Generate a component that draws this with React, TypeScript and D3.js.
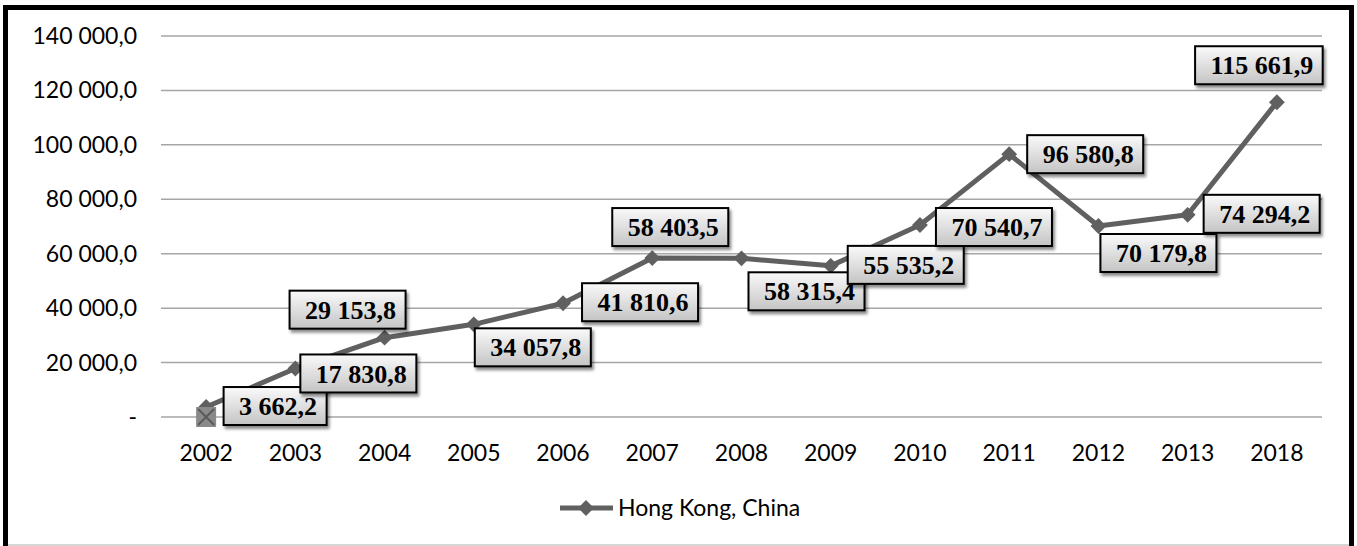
import React, { useEffect, useRef } from 'react';
import * as d3 from 'd3';

// values
const years = ['2002', '2003', '2004', '2005', '2006', '2007', '2008', '2009', '2010', '2011', '2012', '2013', '2018'];
const hongKong = [3662.2, 17830.8, 29153.8, 34057.8, 41810.6, 58403.5, 58315.4, 55535.2, 70540.7, 96580.8, 70179.8, 74294.2, 115661.9];
const yTicks = [0, 20000, 40000, 60000, 80000, 100000, 120000, 140000];
const seriesName = 'Hong Kong, China';

// where each data label box sits relative to its point (px)
const labelShift: [number, number][] = [
  [69, -1], [63, 5], [-37, -28], [59, 23], [77, -1], [18, -31], [65, 33],
  [75, -1], [74, 2], [76, 0], [60, 27], [74, -1], [-18, -37],
];

const W = 1357;
const H = 546;

const fmt = (v: number) => {
  const s = d3.format(',.1f')(v);
  return s.replace(/,/g, ' ').replace('.', ',');
};

const App: React.FC = () => {
  const svgRef = useRef<SVGSVGElement>(null);

  useEffect(() => {
    if (!svgRef.current) return;
    const svg = d3.select(svgRef.current);
    svg.selectAll('*').remove();

    const defs = svg.append('defs');
    const grad = defs.append('linearGradient').attr('id', 'lblGrad').attr('x1', 0).attr('y1', 0).attr('x2', 0).attr('y2', 1);
    grad.append('stop').attr('offset', '0%').attr('stop-color', '#fafafa');
    grad.append('stop').attr('offset', '100%').attr('stop-color', '#c4c4c4');
    const filt = defs.append('filter').attr('id', 'shadow').attr('x', '-20%').attr('y', '-30%').attr('width', '150%').attr('height', '170%');
    filt.append('feDropShadow').attr('dx', 2).attr('dy', 3).attr('stdDeviation', 1.8).attr('flood-color', '#000').attr('flood-opacity', 0.45);

    // outer frame
    svg.append('rect').attr('x', 0).attr('y', 0).attr('width', W).attr('height', H).attr('fill', '#fff');
    svg.append('line').attr('x1', 3).attr('x2', 1352).attr('y1', 545).attr('y2', 545).attr('stroke', '#c8c8c8').attr('stroke-width', 1.5);
    svg.append('path')
      .attr('d', `M5.5,546 L5.5,7.5 L1351.5,7.5 L1351.5,546`)
      .attr('fill', 'none').attr('stroke', '#000').attr('stroke-width', 5);

    const x = d3.scaleBand<string>().domain(years).range([161.5, 1321.5]);
    const y = d3.scaleLinear().domain([0, 140000]).range([417, 36]);
    const cx = (d: string) => (x(d) as number) + x.bandwidth() / 2;

    // gridlines
    svg.append('g').selectAll('line').data(yTicks).join('line')
      .attr('x1', 161).attr('x2', 1322)
      .attr('y1', (d) => y(d)).attr('y2', (d) => y(d))
      .attr('stroke', '#a6a6a6').attr('stroke-width', 1.5);

    // y tick labels
    svg.append('g').selectAll('text').data(yTicks).join('text')
      .attr('x', 137).attr('y', (d) => y(d)).attr('dy', '0.35em')
      .attr('text-anchor', 'end')
      .attr('font-family', 'Lato, "Liberation Sans", sans-serif').attr('font-size', 23).attr('fill', '#000')
      .text((d) => (d === 0 ? '-' : fmt(d)));

    // x tick labels
    svg.append('g').selectAll('text').data(years).join('text')
      .attr('x', (d) => cx(d)).attr('y', 461)
      .attr('text-anchor', 'middle')
      .attr('font-family', 'Lato, "Liberation Sans", sans-serif').attr('font-size', 23).attr('fill', '#000')
      .text((d) => d);

    const lineColor = '#606060';
    const line = d3.line<number>().x((_, i) => cx(years[i])).y((d) => y(d));
    svg.append('path').datum(hongKong)
      .attr('fill', 'none').attr('stroke', lineColor).attr('stroke-width', 5)
      .attr('stroke-linejoin', 'round')
      .attr('d', line as any);

    const diamond = d3.symbol().type(d3.symbolDiamond2).size(160);
    svg.append('g').selectAll('path').data(hongKong).join('path')
      .attr('transform', (d, i) => `translate(${cx(years[i])},${y(d)})`)
      .attr('d', diamond as any)
      .attr('fill', lineColor);

    // grey crossed square sitting on the baseline at the first category
    const sq = svg.append('g').attr('transform', `translate(${cx(years[0])},${y(0)})`);
    sq.append('rect').attr('x', -10).attr('y', -10).attr('width', 20).attr('height', 20).attr('fill', '#8a8a8a');
    sq.append('path').attr('d', 'M-8,-8 L8,8 M8,-8 L-8,8').attr('stroke', '#5a5a5a').attr('stroke-width', 2);

    // data labels
    const labels = svg.append('g');
    hongKong.forEach((v, i) => {
      const [dx, dy] = labelShift[i];
      const px = cx(years[i]) + dx;
      const py = y(v) + dy;
      const g = labels.append('g').attr('transform', `translate(${px},${py})`);
      const rect = g.append('rect').attr('fill', 'url(#lblGrad)').attr('stroke', '#000').attr('stroke-width', 2).attr('filter', 'url(#shadow)');
      const t = g.append('text')
        .attr('x', 3)
        .attr('text-anchor', 'middle').attr('dy', '0.35em')
        .attr('font-family', '"Liberation Serif", "Times New Roman", serif').attr('font-weight', 'bold').attr('font-size', 26)
        .attr('fill', '#000')
        .text(fmt(v));
      const w = (t.node() as SVGTextElement).getComputedTextLength() + 25;
      const h = 38;
      rect.attr('x', -w / 2).attr('y', -h / 2).attr('width', w).attr('height', h);
    });

    // legend
    const lg = svg.append('g').attr('transform', 'translate(560,508)');
    lg.append('line').attr('x1', 0).attr('x2', 53).attr('y1', 0).attr('y2', 0).attr('stroke', lineColor).attr('stroke-width', 5);
    lg.append('path').attr('transform', 'translate(26,0)').attr('d', diamond as any).attr('fill', lineColor);
    lg.append('text').attr('x', 58).attr('y', 0).attr('dy', '0.35em')
      .attr('font-family', 'Lato, "Liberation Sans", sans-serif').attr('font-size', 23).attr('fill', '#000')
      .text(seriesName);
  }, []);

  return (
    <div style={{ position: 'absolute', left: 0, top: 0 }}>
      <svg ref={svgRef} width={W} height={H} style={{ display: 'block' }}></svg>
    </div>
  );
};

export default App;
